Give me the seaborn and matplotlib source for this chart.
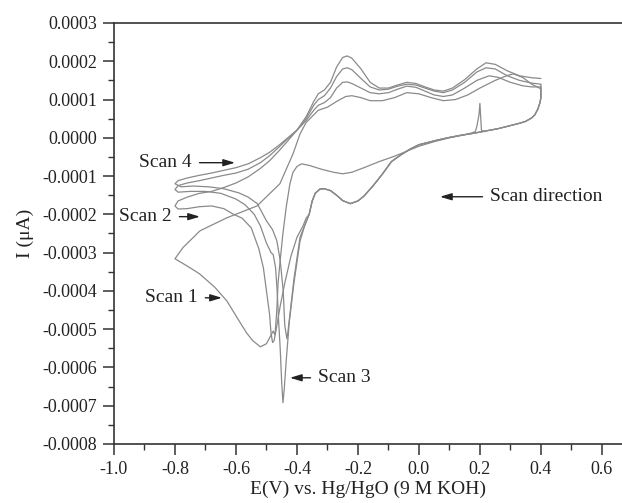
import numpy as np
import pandas as pd
import matplotlib
matplotlib.use("Agg")
import matplotlib.pyplot as plt
from matplotlib.ticker import FixedLocator, MultipleLocator, FixedFormatter
import seaborn as sns

# ---- cyclic voltammetry data: potential E (V) and current I ----
# cathodic branch shared by scans 2-4, from +0.40 V down to -0.36 V
shared_e = [0.40, 0.397, 0.39, 0.38, 0.37, 0.35, 0.33, 0.30, 0.26, 0.22, 0.18,
            0.14, 0.10, 0.06, 0.03, 0.00, -0.03, -0.06, -0.09, -0.12, -0.15,
            -0.18, -0.20, -0.225, -0.25, -0.27, -0.29, -0.31, -0.325, -0.34,
            -0.35, -0.36]
shared_i = [1.05e-4, 0.92e-4, 0.75e-4, 0.60e-4, 0.52e-4, 0.43e-4, 0.38e-4,
            0.32e-4, 0.24e-4, 0.18e-4, 0.12e-4, 0.07e-4, 0.01e-4, -0.06e-4,
            -0.12e-4, -0.18e-4, -0.30e-4, -0.45e-4, -0.62e-4, -0.95e-4,
            -1.25e-4, -1.52e-4, -1.65e-4, -1.72e-4, -1.64e-4, -1.50e-4,
            -1.38e-4, -1.33e-4, -1.34e-4, -1.45e-4, -1.65e-4, -2.0e-4]

# scan 1: starts near +0.21 V (initial spike), cathodic to -0.8 V, anodic back to +0.4 V
scan1_e = [0.215, 0.205, 0.2, 0.197, 0.19, 0.185, 0.17, 0.15, 0.10, 0.05, 0.0,
           -0.04, -0.08, -0.13, -0.18, -0.22, -0.25, -0.28, -0.32, -0.36,
           -0.385, -0.40, -0.413, -0.423, -0.435, -0.446, -0.455, -0.462,
           -0.466, -0.472, -0.478, -0.488, -0.50, -0.52, -0.545, -0.565,
           -0.59, -0.63, -0.67, -0.72, -0.76, -0.80,
           -0.774, -0.718, -0.63, -0.531, -0.456, -0.413, -0.39, -0.37,
           -0.345, -0.33, -0.30, -0.27, -0.24, -0.22, -0.19, -0.16, -0.12,
           -0.08, -0.04, 0.0, 0.04, 0.08, 0.12, 0.16, 0.20, 0.25, 0.29, 0.31,
           0.34, 0.37, 0.40]
scan1_i = [0.16e-4, 0.20e-4, 0.90e-4, 0.60e-4, 0.30e-4, 0.16e-4, 0.12e-4,
           0.08e-4, 0.0, -0.10e-4, -0.22e-4, -0.35e-4, -0.48e-4, -0.62e-4,
           -0.78e-4, -0.90e-4, -0.94e-4, -0.90e-4, -0.82e-4, -0.72e-4,
           -0.68e-4, -0.75e-4, -0.90e-4, -1.2e-4, -1.8e-4, -2.5e-4, -3.2e-4,
           -3.8e-4, -4.5e-4, -5.15e-4, -5.05e-4, -5.2e-4, -5.38e-4, -5.46e-4,
           -5.30e-4, -5.1e-4, -4.78e-4, -4.26e-4, -3.9e-4, -3.55e-4, -3.35e-4,
           -3.16e-4,
           -2.87e-4, -2.43e-4, -2.09e-4, -1.78e-4, -1.20e-4, -0.42e-4, 0.10e-4,
           0.40e-4, 0.60e-4, 0.72e-4, 0.80e-4, 0.95e-4, 1.08e-4, 1.10e-4,
           1.05e-4, 0.97e-4, 0.97e-4, 1.05e-4, 1.18e-4, 1.15e-4, 1.05e-4,
           0.97e-4, 1.0e-4, 1.12e-4, 1.30e-4, 1.50e-4, 1.63e-4, 1.67e-4,
           1.58e-4, 1.40e-4, 1.28e-4]

# scan 2: cathodic peak near -0.48 V
scan2_e = [-0.37, -0.38, -0.40, -0.42, -0.44, -0.455, -0.468, -0.475, -0.48,
           -0.485, -0.49, -0.50, -0.51, -0.525, -0.55, -0.58, -0.61, -0.64,
           -0.68, -0.72, -0.76, -0.79, -0.80,
           -0.79, -0.76, -0.72, -0.68, -0.64, -0.60, -0.56, -0.52, -0.49,
           -0.46, -0.43, -0.40, -0.37, -0.345, -0.33, -0.31, -0.29, -0.27,
           -0.25, -0.235, -0.22, -0.19, -0.16, -0.13, -0.10, -0.07, -0.04,
           -0.01, 0.02, 0.05, 0.08, 0.11, 0.15, 0.19, 0.23, 0.26, 0.30, 0.34,
           0.37, 0.40]
scan2_i = [-2.1e-4, -2.3e-4, -2.6e-4, -3.1e-4, -3.8e-4, -4.4e-4, -5.0e-4,
           -5.3e-4, -5.35e-4, -5.1e-4, -4.6e-4, -4.0e-4, -3.4e-4, -2.9e-4,
           -2.35e-4, -2.1e-4, -1.99e-4, -1.85e-4, -1.78e-4, -1.80e-4,
           -1.85e-4, -1.86e-4, -1.78e-4,
           -1.65e-4, -1.55e-4, -1.45e-4, -1.40e-4, -1.30e-4, -1.18e-4,
           -1.02e-4, -0.80e-4, -0.60e-4, -0.35e-4, -0.08e-4, 0.20e-4,
           0.45e-4, 0.72e-4, 0.85e-4, 0.92e-4, 1.05e-4, 1.30e-4, 1.45e-4,
           1.46e-4, 1.42e-4, 1.30e-4, 1.18e-4, 1.15e-4, 1.18e-4, 1.27e-4,
           1.35e-4, 1.32e-4, 1.22e-4, 1.12e-4, 1.08e-4, 1.12e-4, 1.30e-4,
           1.50e-4, 1.62e-4, 1.58e-4, 1.45e-4, 1.36e-4, 1.33e-4, 1.33e-4]

# scan 3: sharp cathodic peak near -0.446 V
scan3_e = [-0.375, -0.39, -0.41, -0.425, -0.435, -0.442, -0.446, -0.450,
           -0.455, -0.46, -0.465, -0.47, -0.478, -0.485, -0.50, -0.52, -0.54,
           -0.57, -0.60, -0.65, -0.70, -0.75, -0.79, -0.80,
           -0.79, -0.76, -0.72, -0.68, -0.64, -0.60, -0.56, -0.52, -0.49,
           -0.46, -0.43, -0.40, -0.37, -0.345, -0.33, -0.31, -0.29, -0.27,
           -0.25, -0.235, -0.22, -0.19, -0.16, -0.13, -0.10, -0.07, -0.04,
           -0.01, 0.02, 0.05, 0.08, 0.11, 0.15, 0.19, 0.22, 0.25, 0.29, 0.33,
           0.37, 0.40]
scan3_i = [-2.3e-4, -2.7e-4, -3.8e-4, -4.8e-4, -5.8e-4, -6.6e-4, -6.92e-4,
           -6.4e-4, -5.5e-4, -4.8e-4, -4.0e-4, -3.4e-4, -3.05e-4, -3.0e-4,
           -2.75e-4, -2.3e-4, -2.0e-4, -1.75e-4, -1.6e-4, -1.45e-4, -1.40e-4,
           -1.40e-4, -1.42e-4, -1.35e-4,
           -1.25e-4, -1.18e-4, -1.12e-4, -1.05e-4, -0.98e-4, -0.92e-4,
           -0.82e-4, -0.65e-4, -0.47e-4, -0.25e-4, -0.02e-4, 0.20e-4,
           0.50e-4, 0.85e-4, 1.0e-4, 1.10e-4, 1.30e-4, 1.60e-4, 1.80e-4,
           1.83e-4, 1.78e-4, 1.55e-4, 1.33e-4, 1.25e-4, 1.27e-4, 1.35e-4,
           1.40e-4, 1.38e-4, 1.30e-4, 1.22e-4, 1.18e-4, 1.25e-4, 1.45e-4,
           1.72e-4, 1.83e-4, 1.80e-4, 1.62e-4, 1.50e-4, 1.43e-4, 1.40e-4]

# scan 4: cathodic peak near -0.433 V
scan4_e = [-0.375, -0.39, -0.41, -0.42, -0.43, -0.433, -0.44, -0.445, -0.455,
           -0.466, -0.48, -0.50, -0.53, -0.56, -0.59, -0.64, -0.69, -0.74,
           -0.78, -0.80,
           -0.79, -0.76, -0.72, -0.68, -0.64, -0.60, -0.56, -0.52, -0.49,
           -0.46, -0.43, -0.40, -0.37, -0.345, -0.33, -0.31, -0.29, -0.27,
           -0.25, -0.235, -0.22, -0.19, -0.16, -0.13, -0.10, -0.07, -0.04,
           -0.01, 0.02, 0.05, 0.08, 0.11, 0.15, 0.19, 0.22, 0.25, 0.29, 0.33,
           0.37, 0.40]
scan4_i = [-2.3e-4, -2.6e-4, -3.7e-4, -4.4e-4, -5.1e-4, -5.25e-4, -4.9e-4,
           -4.0e-4, -3.2e-4, -2.69e-4, -2.4e-4, -2.17e-4, -1.72e-4, -1.55e-4,
           -1.44e-4, -1.33e-4, -1.28e-4, -1.26e-4, -1.28e-4, -1.20e-4,
           -1.12e-4, -1.05e-4, -0.98e-4, -0.92e-4, -0.85e-4, -0.78e-4,
           -0.68e-4, -0.52e-4, -0.38e-4, -0.20e-4, 0.0, 0.20e-4, 0.55e-4,
           0.95e-4, 1.15e-4, 1.25e-4, 1.45e-4, 1.85e-4, 2.10e-4, 2.14e-4,
           2.08e-4, 1.80e-4, 1.45e-4, 1.30e-4, 1.30e-4, 1.38e-4, 1.45e-4,
           1.42e-4, 1.33e-4, 1.25e-4, 1.22e-4, 1.30e-4, 1.52e-4, 1.80e-4,
           1.96e-4, 1.92e-4, 1.75e-4, 1.62e-4, 1.57e-4, 1.55e-4]

x_ticks = [-1.0, -0.8, -0.6, -0.4, -0.2, 0.0, 0.2, 0.4, 0.6]
x_tick_labels = ["-1.0", "-0.8", "-0.6", "-0.4", "-0.2", "0.0", "0.2", "0.4", "0.6"]
y_ticks = [0.0003, 0.0002, 0.0001, 0.0, -0.0001, -0.0002, -0.0003, -0.0004,
           -0.0005, -0.0006, -0.0007, -0.0008]
y_tick_labels = ["0.0003", "0.0002", "0.0001", "0.0000", "-0.0001", "-0.0002",
                 "-0.0003", "-0.0004", "-0.0005", "-0.0006", "-0.0007", "-0.0008"]

# assemble each scan in acquisition order
scans = {
    "Scan 1": (scan1_e, scan1_i),
    "Scan 2": ([scan1_e[-1]] + shared_e + scan2_e, [scan1_i[-1]] + shared_i + scan2_i),
    "Scan 3": ([scan2_e[-1]] + shared_e + scan3_e, [scan2_i[-1]] + shared_i + scan3_i),
    "Scan 4": ([scan3_e[-1]] + shared_e + scan4_e, [scan3_i[-1]] + shared_i + scan4_i),
}
frames = []
for name, (e, i) in scans.items():
    frames.append(pd.DataFrame({"E": e, "I": i, "scan": name, "step": range(len(e))}))
df = pd.concat(frames, ignore_index=True)

sns.set_style("ticks")
plt.rcParams["font.family"] = ["Liberation Serif", "DejaVu Serif"]
plt.rcParams["axes.unicode_minus"] = False

fig = plt.figure(figsize=(6.22, 5.03), dpi=100)
ax = fig.add_axes([114 / 622, 1 - 444 / 503, (622 - 114) / 622, (444 - 23) / 503])

sns.lineplot(data=df, x="E", y="I", units="scan", estimator=None, sort=False,
             color="#8a8a8a", linewidth=0.9, ax=ax, legend=False)

ax.set_xlim(-1.0, 0.666)
ax.set_ylim(-0.0008, 0.0003)
ax.xaxis.set_major_locator(FixedLocator(x_ticks))
ax.xaxis.set_major_formatter(FixedFormatter(x_tick_labels))
ax.xaxis.set_minor_locator(MultipleLocator(0.1))
ax.yaxis.set_major_locator(FixedLocator(y_ticks))
ax.yaxis.set_major_formatter(FixedFormatter(y_tick_labels))
ax.yaxis.set_minor_locator(MultipleLocator(0.00005))

for side in ["left", "bottom", "top"]:
    ax.spines[side].set_color("#333333")
    ax.spines[side].set_linewidth(1.2)
ax.spines["right"].set_visible(False)

ax.tick_params(which="major", direction="out", length=8, width=1.1,
               labelsize=13, color="#333333", labelcolor="#222222", pad=4)
ax.tick_params(which="minor", direction="out", length=4, width=1.0, color="#333333")
ax.tick_params(top=False, right=False, which="both")

ax.set_xlabel("E(V) vs. Hg/HgO (9 M KOH)", fontsize=14, color="#222222", labelpad=2)
ax.set_ylabel("I (\u03bcA)", fontsize=14, color="#222222", labelpad=6)

arrow_kw = dict(arrowstyle="-|>,head_length=0.5,head_width=0.15", color="#222222",
                lw=1.0, shrinkA=3, shrinkB=0)
txt_kw = dict(fontsize=14, color="#222222", va="center")

ax.annotate("Scan 4", xy=(-0.603, -0.65e-4), xytext=(-0.744, -0.65e-4),
            ha="right", arrowprops=arrow_kw, **txt_kw)
ax.annotate("Scan 2", xy=(-0.718, -2.06e-4), xytext=(-0.81, -2.06e-4),
            ha="right", arrowprops=arrow_kw, **txt_kw)
ax.annotate("Scan 1", xy=(-0.646, -4.18e-4), xytext=(-0.725, -4.18e-4),
            ha="right", arrowprops=arrow_kw, **txt_kw)
ax.annotate("Scan 3", xy=(-0.423, -6.27e-4), xytext=(-0.331, -6.27e-4),
            ha="left", arrowprops=arrow_kw, **txt_kw)
ax.annotate("Scan direction", xy=(0.069, -1.54e-4), xytext=(0.233, -1.54e-4),
            ha="left", arrowprops=arrow_kw, **txt_kw)

fig.savefig("out.png", dpi=100)
